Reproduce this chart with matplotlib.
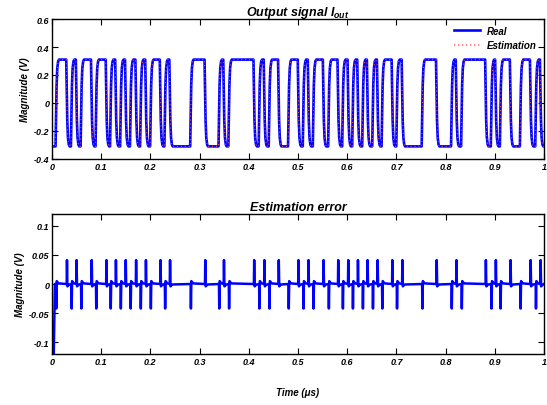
import numpy as np
import matplotlib
matplotlib.use("Agg")
import matplotlib.pyplot as plt

# ---------------- data ----------------
# instants (µs) where the output switches; alternating rise / fall, starting with a rise
switch_times = [0.0088, 0.0305, 0.0400, 0.0500, 0.0597, 0.0808, 0.0900, 0.1107,
                0.1195, 0.1300, 0.1400, 0.1500, 0.1600, 0.1710, 0.1806, 0.1910,
                0.2010, 0.2206, 0.2300, 0.2400, 0.2824, 0.3116, 0.3400, 0.3496,
                0.3600, 0.4110, 0.4216, 0.4318, 0.4420, 0.4610, 0.4813, 0.5010,
                0.5112, 0.5214, 0.5316, 0.5520, 0.5628, 0.5818, 0.5913, 0.6022,
                0.6117, 0.6219, 0.6320, 0.6415, 0.6524, 0.6619, 0.6714, 0.6918,
                0.7013, 0.7122, 0.7529, 0.7820, 0.8126, 0.8221, 0.8330, 0.8819,
                0.8934, 0.9022, 0.9118, 0.9321, 0.9525, 0.9729, 0.9837, 0.9932]
high_level = 0.31
low_level = -0.31
est_start_times = [0.0, 0.002]
est_start_values = [0.0, -0.31]

# estimation error: spike peak at each switch (negative at rises, positive at falls)
spike_peak_rise = -0.042
spike_peak_fall = 0.041
ripple_after_rise = 0.005
ripple_after_fall = -0.004
err_start_times = [0.0, 0.006]
err_start_values = [-0.31, 0.0]

x_ticks = [0, 0.1, 0.2, 0.3, 0.4, 0.5, 0.6, 0.7, 0.8, 0.9, 1]
x_tick_labels = ["0", "0.1", "0.2", "0.3", "0.4", "0.5", "0.6", "0.7", "0.8", "0.9", "1"]
top_y_ticks = [-0.4, -0.2, 0, 0.2, 0.4, 0.6]
top_y_labels = ["-0.4", "-0.2", "0", "0.2", "0.4", "0.6"]
bot_y_ticks = [-0.1, -0.05, 0, 0.05, 0.1]
bot_y_labels = ["-0.1", "-0.05", "0", "0.05", "0.1"]

# ---------------- shape templates (style) ----------------
TR_BEFORE = 0.0015
TR_DUR = 0.0070
tr_frac_t = [0.0, 0.15, 0.3, 0.5, 0.75, 1.0]
tr_frac_v = [0.0, 0.35, 0.7, 0.9, 0.98, 1.0]


def square_wave(first_t, first_v):
    ts = list(first_t)
    vs = list(first_v)
    level = low_level
    for i, s in enumerate(switch_times):
        new = high_level if i % 2 == 0 else low_level
        t0 = s - TR_BEFORE
        for ft, fv in zip(tr_frac_t, tr_frac_v):
            ts.append(t0 + ft * TR_DUR)
            vs.append(level + (new - level) * fv)
        level = new
    ts.append(1.0)
    vs.append(level)
    return np.array(ts), np.array(vs)


real_t, real_v = square_wave([0.0], [low_level])
est_t, est_v = square_wave(est_start_times, est_start_values)
est_t = np.minimum(est_t, 1.0)

err_t = list(err_start_times)
err_v = list(err_start_values)
for i, s in enumerate(switch_times):
    rise = (i % 2 == 0)
    peak = spike_peak_rise if rise else spike_peak_fall
    rip = ripple_after_rise if rise else ripple_after_fall
    err_t += [s - 0.0006, s, s + 0.0009, s + 0.0025, s + 0.005]
    err_v += [0.0, peak, rip, rip * 0.6, rip * 0.2]
err_t.append(1.0)
err_v.append(0.0)
err_t = np.minimum(np.array(err_t), 1.0)
err_v = np.array(err_v)

# ---------------- figure ----------------
plt.rcParams['font.family'] = ['Liberation Sans', 'DejaVu Sans']
plt.rcParams['mathtext.fontset'] = 'custom'
plt.rcParams['mathtext.it'] = 'Liberation Sans:bold:italic'
plt.rcParams['mathtext.rm'] = 'Liberation Sans:bold:italic'
plt.rcParams['axes.unicode_minus'] = False

fig = plt.figure(figsize=(5.47, 4.06), dpi=100)
ax1 = fig.add_axes([0.095, 0.606, 0.8995, 0.3447])
ax2 = fig.add_axes([0.095, 0.1256, 0.8995, 0.3448])

fkw = dict(fontweight='bold', fontstyle='italic')

ax1.plot(real_t, real_v, color='#0000ff', lw=1.9, label='Real', solid_joinstyle='round')
ax1.plot(est_t, est_v, color='#ff5a5a', lw=0.8, alpha=0.85, linestyle=(0, (1, 2.5)),
         label='Estimation')
ax1.set_xlim(0, 1)
ax1.set_ylim(-0.4, 0.6)
ax1.set_xticks(x_ticks)
ax1.set_xticklabels(x_tick_labels, **fkw)
ax1.set_yticks(top_y_ticks)
ax1.set_yticklabels(top_y_labels, **fkw)
ax1.set_title(r'Output signal $I_{out}$', fontsize=9, pad=3, **fkw)
ax1.set_ylabel('Magnitude (V)', fontsize=7, labelpad=3, **fkw)
leg = ax1.legend(loc='upper right', frameon=False, handlelength=2.6,
                 borderaxespad=0.3, labelspacing=0.45,
                 prop=dict(weight='bold', style='italic', size=7))
est_handle = leg.get_lines()[1]
est_handle.set_linewidth(1.6)
est_handle.set_alpha(0.7)
est_handle.set_linestyle((0, (0.6, 1.2)))

ax2.plot(err_t, err_v, color='#0000ff', lw=1.8, solid_joinstyle='round')
ax2.set_xlim(0, 1)
ax2.set_ylim(-0.12, 0.12)
ax2.set_xticks(x_ticks)
ax2.set_xticklabels(x_tick_labels, **fkw)
ax2.set_yticks(bot_y_ticks)
ax2.set_yticklabels(bot_y_labels, **fkw)
ax2.set_title('Estimation error', fontsize=9, pad=3, **fkw)
ax2.set_ylabel('Magnitude (V)', fontsize=7, labelpad=3, **fkw)
ax2.set_xlabel('Time (\u03bcs)', fontsize=7, labelpad=15, **fkw)

for ax in (ax1, ax2):
    ax.tick_params(direction='in', top=True, right=True, length=4, width=0.8,
                   labelsize=6.5, pad=2)
    for sp in ax.spines.values():
        sp.set_linewidth(1.0)

fig.savefig('out.png', dpi=100)
